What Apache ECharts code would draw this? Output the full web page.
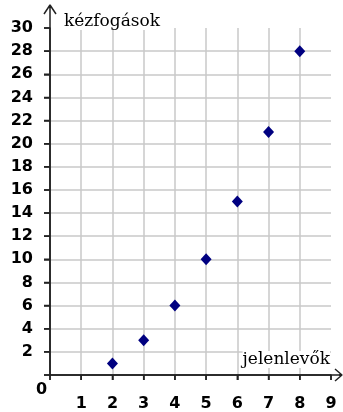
<!DOCTYPE html>
<html>
<head>
<meta charset="utf-8">
<script src="https://cdn.jsdelivr.net/npm/echarts@6/dist/echarts.min.js"></script>
<style>html,body{margin:0;padding:0;background:#fff;}#c{width:343px;height:412px;}</style>
</head>
<body>
<div id="c"></div>
<script>
// Data
const jelenlevok = [2, 3, 4, 5, 6, 7, 8];
const kezfogasok = [1, 3, 6, 10, 15, 21, 28];
const xTicks = [0, 1, 2, 3, 4, 5, 6, 7, 8, 9];
const yTicks = [0, 2, 4, 6, 8, 10, 12, 14, 16, 18, 20, 22, 24, 26, 28, 30];
const xTitle = 'jelenlevők';
const yTitle = 'kézfogások';
const originLabel = '0';

const chart = echarts.init(document.getElementById('c'), null, {renderer: 'canvas'});
const axisColor = '#222';
const gridColor = '#c8c8c8';
const labelFont = {fontFamily: 'DejaVu Sans', fontWeight: 'bold', fontSize: 16, color: '#000'};

chart.setOption({
  animation: false,
  grid: [{left: 50, right: 12, top: 28, bottom: 37}],
  xAxis: [{
    type: 'value', min: 0, max: 9, interval: 1,
    axisLine: {show: true, lineStyle: {color: axisColor, width: 1.5}},
    axisTick: {show: true, length: 5, lineStyle: {color: axisColor, width: 1.5}},
    axisLabel: Object.assign({margin: 21, formatter: v => (v === 0 ? '' : String(v))}, labelFont),
    splitLine: {show: true, showMaxLine: false, lineStyle: {color: gridColor, width: 1.5}}
  }],
  yAxis: [{
    type: 'value', min: 0, max: 30, interval: 2,
    axisLine: {show: true, lineStyle: {color: axisColor, width: 1.5}},
    axisTick: {show: true, length: 6, lineStyle: {color: axisColor, width: 1.5}},
    axisLabel: Object.assign({margin: 17, formatter: v => (v === 0 ? '' : String(v))}, labelFont),
    splitLine: {show: true, showMaxLine: false, lineStyle: {color: gridColor, width: 1.5}}
  }],
  series: [{
    type: 'scatter',
    symbol: 'diamond', symbolSize: [11, 12],
    itemStyle: {color: '#000080', opacity: 1},
    data: jelenlevok.map((x, i) => [x, kezfogasok[i]]),
    z: 20
  }]
});

// axis lines with ticks and open arrowheads, drawn as polylines anchored to the axis scale
const px = p => chart.convertToPixel({gridIndex: 0}, p);
const o = px([0, 0]);
const yTop = px([0, 30]);
const xEnd = px([9, 0]);
const ls = {stroke: axisColor, lineWidth: 1.5, fill: null, lineJoin: 'bevel'};
const yTip = yTop[1] - 23, xTip = xEnd[0] + 11;

// x axis: zigzag through each tick, then to the arrow tip and one arm
const xPts = [];
xTicks.forEach(v => {
  const p = px([v, 0]);
  xPts.push([p[0], o[1]], [p[0], o[1] + 5], [p[0], o[1]]);
});
xPts.push([xTip, o[1]], [xTip - 7, o[1] - 6]);

// y axis: zigzag through each tick, then to the arrow tip and one arm
const yPts = [];
yTicks.forEach(v => {
  const p = px([0, v]);
  yPts.push([o[0], p[1]], [o[0] - 6, p[1]], [o[0], p[1]]);
});
yPts.push([o[0], yTip], [o[0] - 6, yTip + 9]);

const deco = [
  {type: 'polyline', shape: {points: xPts}, style: ls},
  {type: 'polyline', shape: {points: [[xTip - 7, o[1] + 6], [xTip, o[1]], [xTip - 3, o[1]]]}, style: ls},
  {type: 'polyline', shape: {points: yPts}, style: ls},
  {type: 'polyline', shape: {points: [[o[0] + 6, yTip + 9], [o[0], yTip], [o[0], yTip + 3]]}, style: ls},
  {type: 'text', left: 64, top: 13, style: {text: yTitle, font: '17px "DejaVu Serif"', fill: '#000', backgroundColor: '#fff'}},
  {type: 'text', right: 13, top: 351, style: {text: xTitle, font: '17px "DejaVu Serif"', fill: '#000', backgroundColor: '#fff'}},
  {type: 'text', left: 36, top: 382, style: {text: originLabel, font: 'bold 16px "DejaVu Sans"', fill: '#000'}}
];
chart.setOption({graphic: {elements: deco.map(e => Object.assign({z: 100}, e))}});
</script>
</body>
</html>
